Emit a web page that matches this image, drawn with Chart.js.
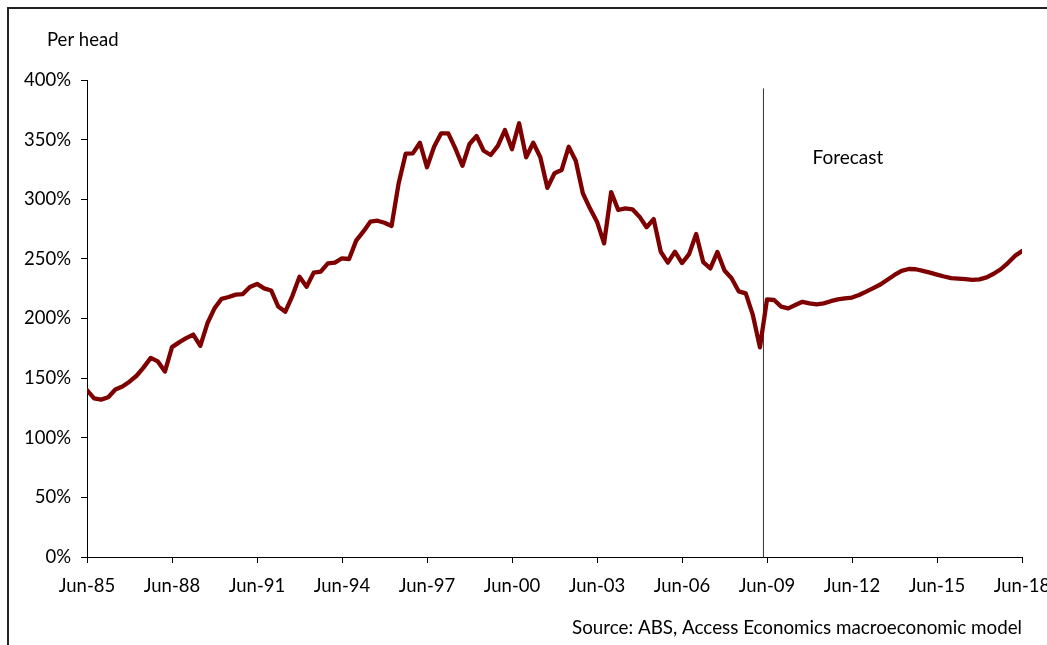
<!DOCTYPE html>
<html>
<head>
<meta charset="utf-8">
<script src="https://cdn.jsdelivr.net/npm/chart.js@4.4.1/dist/chart.umd.min.js"></script>
<style>
  html, body { margin: 0; padding: 0; background: #fff; }
  #wrap { position: relative; width: 1047px; height: 645px; overflow: hidden; }
  #frame { position: absolute; left: 7px; top: 7px; width: 1100px; height: 700px;
           border-top: 2px solid #222; border-left: 2px solid #222; box-sizing: border-box; }
  canvas { position: absolute; left: 0; top: 0; }
</style>
</head>
<body>
<div id="wrap">
  <div id="frame"></div>
  <canvas id="c" width="1047" height="645"></canvas>
</div>
<script>
// Tick labels on the x axis (every 12 quarters)
const tickLabels = ['Jun-85','Jun-88','Jun-91','Jun-94','Jun-97','Jun-00','Jun-03','Jun-06','Jun-09','Jun-12','Jun-15','Jun-18'];

// Quarterly values, Jun-85 .. Jun-18 (133 quarters), per head, %
const perHead = [
  140, 133, 132, 134, 140.5, 143, 147, 152, 159, 167, 164, 155.5,
  176, 180, 183.5, 186.5, 177, 196, 208.5, 216.5, 218, 220, 220.5, 226.5,
  229, 225.3, 223.5, 210, 205.7, 219, 235, 226.7, 238.4, 239.3, 246.3, 246.8,
  250.5, 249.9, 265.3, 272.8, 281.2, 282, 280.3, 277.6, 313.5, 338.3, 338.5, 347.4,
  326.8, 344, 355.3, 355.3, 342.7, 328.1, 346.3, 353, 340.7, 337.1, 344.7, 358,
  342, 363.7, 335.2, 347.4, 335.2, 309.5, 321.8, 324.5, 344, 332.3, 305, 292.4,
  281.2, 263, 306, 291, 292.4, 291.6, 285.4, 276.5, 283.4, 256, 246.8, 256,
  246.5, 254, 270.9, 247.2, 242, 255.8, 240.3, 233.7, 222.8, 221.1, 203, 175.8,
  216, 215.5, 210, 208.5, 211.3, 214, 212.7, 211.9, 212.7, 214.5, 216, 216.8,
  217.6, 219.7, 222.5, 225.5, 228.5, 232.5, 236.5, 240, 241.5, 241.3, 240, 238.5,
  236.8, 235.2, 233.9, 233.5, 233, 232.3, 232.8, 234.5, 237.5, 241.3, 246.5, 252.5,
  256.5
];

// Forecast divider position (quarter index) and its top value (%)
const forecastStart = 95.5;
const forecastLineTop = 393;
const forecastLabel = 'Forecast';
const yAxisTitle = 'Per head';
const sourceNote = 'Source: ABS, Access Economics macroeconomic model';

const FONT = 'Lato, "Open Sans", sans-serif';

const seriesPoints = perHead.map((v, i) => ({ x: i, y: v }));
const dividerPoints = [{ x: forecastStart, y: 0 }, { x: forecastStart, y: forecastLineTop }];

const textPlugin = {
  id: 'texts',
  afterDraw(chart) {
    const ctx = chart.ctx;
    const xs = chart.scales.x;
    ctx.save();
    ctx.fillStyle = '#000';
    ctx.font = '18.5px ' + FONT;
    ctx.textBaseline = 'alphabetic';
    ctx.textAlign = 'left';
    ctx.fillText(yAxisTitle, 47, 46);
    ctx.font = '19px ' + FONT;
    ctx.fillText(forecastLabel, xs.getPixelForValue(forecastStart) + 49, 163.5);
    ctx.font = '18.8px ' + FONT;
    ctx.textAlign = 'right';
    ctx.fillText(sourceNote, 1022, 634);
    ctx.restore();
  }
};

new Chart(document.getElementById('c'), {
  type: 'line',
  data: {
    datasets: [
      {
        data: seriesPoints,
        borderColor: '#7f0000',
        borderWidth: 4.3,
        pointRadius: 0,
        tension: 0,
        borderJoinStyle: 'round',
        borderCapStyle: 'round',
        fill: false
      },
      {
        data: dividerPoints,
        borderColor: '#333333',
        borderWidth: 1,
        pointRadius: 0,
        fill: false
      }
    ]
  },
  options: {
    responsive: false,
    animation: false,
    events: [],
    layout: { padding: { top: 80, right: 25, left: 0, bottom: 0 } },
    plugins: { legend: { display: false }, tooltip: { enabled: false }, title: { display: false } },
    scales: {
      x: {
        type: 'linear',
        min: 0,
        max: 132,
        grid: { display: true, drawOnChartArea: false, drawTicks: true, tickLength: 6, color: '#000' },
        border: { display: true, color: '#000', width: 1 },
        ticks: {
          stepSize: 12,
          autoSkip: false,
          maxRotation: 0,
          minRotation: 0,
          padding: 12,
          color: '#000',
          font: { family: FONT, size: 18.5 },
          callback: (v) => tickLabels[Math.round(v / 12)]
        },
        afterFit(s) { s.height = 88; s.paddingLeft = 0; s.paddingRight = 0; }
      },
      y: {
        min: 0,
        max: 400,
        grid: { display: true, drawOnChartArea: false, drawTicks: true, tickLength: 6, color: '#000' },
        border: { display: true, color: '#000', width: 1 },
        ticks: {
          stepSize: 50,
          padding: 10,
          color: '#000',
          font: { family: FONT, size: 18.5 },
          callback: (v) => v + '%'
        },
        afterFit(s) { s.width = 87; s.paddingTop = 0; s.paddingBottom = 0; }
      }
    }
  },
  plugins: [textPlugin]
});
</script>
</body>
</html>
